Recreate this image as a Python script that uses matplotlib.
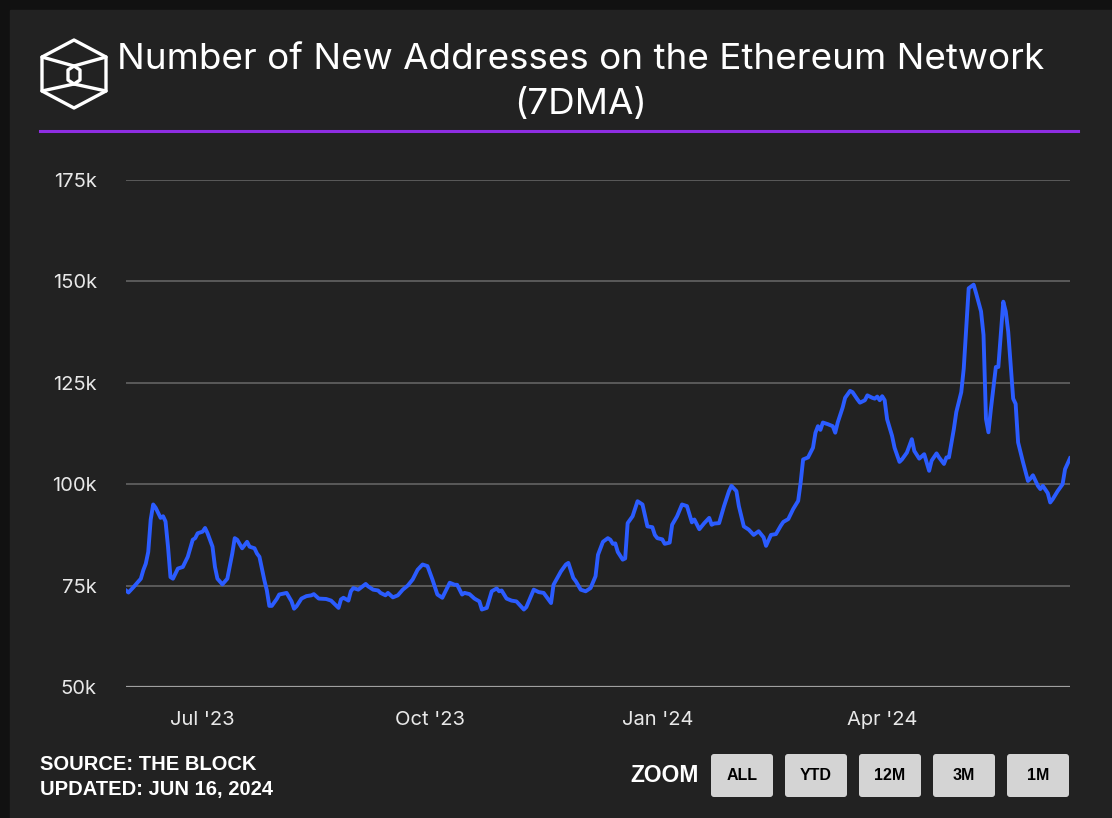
import matplotlib.pyplot as plt
from matplotlib.patches import Rectangle, FancyBboxPatch, Polygon
import pandas as pd

# --- data (7-day moving average, thousands of new addresses) ---
dates = [
    "2023-05-31", "2023-06-01", "2023-06-03", "2023-06-06", "2023-06-07", "2023-06-08",
    "2023-06-09", "2023-06-10", "2023-06-11", "2023-06-12", "2023-06-14", "2023-06-15",
    "2023-06-16", "2023-06-17", "2023-06-18", "2023-06-19", "2023-06-21", "2023-06-22",
    "2023-06-23", "2023-06-25", "2023-06-27", "2023-06-28", "2023-06-29", "2023-07-01",
    "2023-07-02", "2023-07-03", "2023-07-05", "2023-07-06", "2023-07-07", "2023-07-09",
    "2023-07-11", "2023-07-13", "2023-07-14", "2023-07-15", "2023-07-17", "2023-07-19",
    "2023-07-20", "2023-07-22", "2023-07-23", "2023-07-24", "2023-07-26", "2023-07-27",
    "2023-07-28", "2023-07-29", "2023-07-31", "2023-08-01", "2023-08-04", "2023-08-06",
    "2023-08-07", "2023-08-08", "2023-08-10", "2023-08-12", "2023-08-14", "2023-08-15",
    "2023-08-17", "2023-08-20", "2023-08-22", "2023-08-23", "2023-08-25", "2023-08-26",
    "2023-08-27", "2023-08-29", "2023-08-30", "2023-08-31", "2023-09-02", "2023-09-05",
    "2023-09-06", "2023-09-08", "2023-09-10", "2023-09-11", "2023-09-13", "2023-09-14",
    "2023-09-16", "2023-09-18", "2023-09-20", "2023-09-22", "2023-09-24", "2023-09-26",
    "2023-09-28", "2023-09-30", "2023-10-02", "2023-10-04", "2023-10-06", "2023-10-09",
    "2023-10-11", "2023-10-12", "2023-10-14", "2023-10-15", "2023-10-17", "2023-10-19",
    "2023-10-21", "2023-10-22", "2023-10-24", "2023-10-26", "2023-10-28", "2023-10-29",
    "2023-10-30", "2023-11-01", "2023-11-03", "2023-11-05", "2023-11-08", "2023-11-09",
    "2023-11-12", "2023-11-14", "2023-11-16", "2023-11-19", "2023-11-20", "2023-11-23",
    "2023-11-25", "2023-11-26", "2023-11-28", "2023-11-29", "2023-12-01", "2023-12-03",
    "2023-12-05", "2023-12-07", "2023-12-08", "2023-12-10", "2023-12-12", "2023-12-13",
    "2023-12-14", "2023-12-15", "2023-12-16", "2023-12-18", "2023-12-19", "2023-12-20",
    "2023-12-22", "2023-12-24", "2023-12-26", "2023-12-28", "2023-12-30", "2023-12-31",
    "2024-01-01", "2024-01-03", "2024-01-04", "2024-01-06", "2024-01-07", "2024-01-09",
    "2024-01-11", "2024-01-13", "2024-01-15", "2024-01-16", "2024-01-18", "2024-01-20",
    "2024-01-22", "2024-01-23", "2024-01-24", "2024-01-26", "2024-01-28", "2024-01-30",
    "2024-01-31", "2024-02-02", "2024-02-03", "2024-02-05", "2024-02-07", "2024-02-09",
    "2024-02-11", "2024-02-13", "2024-02-14", "2024-02-16", "2024-02-18", "2024-02-20",
    "2024-02-21", "2024-02-23", "2024-02-25", "2024-02-27", "2024-02-28", "2024-02-29",
    "2024-03-02", "2024-03-04", "2024-03-05", "2024-03-06", "2024-03-07", "2024-03-08",
    "2024-03-10", "2024-03-12", "2024-03-13", "2024-03-14", "2024-03-16", "2024-03-17",
    "2024-03-19", "2024-03-20", "2024-03-22", "2024-03-23", "2024-03-25", "2024-03-26",
    "2024-03-28", "2024-03-29", "2024-03-30", "2024-03-31", "2024-04-01", "2024-04-02",
    "2024-04-03", "2024-04-05", "2024-04-06", "2024-04-08", "2024-04-09", "2024-04-11",
    "2024-04-13", "2024-04-14", "2024-04-16", "2024-04-18", "2024-04-20", "2024-04-21",
    "2024-04-23", "2024-04-24", "2024-04-26", "2024-04-27", "2024-04-28", "2024-04-30",
    "2024-05-01", "2024-05-03", "2024-05-04", "2024-05-05", "2024-05-06", "2024-05-08",
    "2024-05-09", "2024-05-11", "2024-05-12", "2024-05-13", "2024-05-14", "2024-05-15",
    "2024-05-17", "2024-05-18", "2024-05-20", "2024-05-21", "2024-05-22", "2024-05-24",
    "2024-05-25", "2024-05-26", "2024-05-28", "2024-05-30", "2024-05-31", "2024-06-01",
    "2024-06-03", "2024-06-04", "2024-06-05", "2024-06-07", "2024-06-08", "2024-06-09",
    "2024-06-11", "2024-06-13", "2024-06-14", "2024-06-16",
]
new_addresses_k = [
    73.8, 73.3, 74.6, 76.7, 78.8, 80.4,
    83.3, 91.3, 95.0, 94.2, 91.7, 92.1,
    90.8, 84.6, 77.1, 76.7, 79.2, 79.4,
    79.6, 82.1, 86.3, 86.7, 87.9, 88.3,
    89.2, 87.9, 84.6, 79.6, 76.7, 75.3,
    76.7, 82.9, 86.7, 86.3, 84.2, 85.8,
    84.6, 84.2, 82.9, 82.1, 76.3, 73.8,
    70.0, 70.0, 71.7, 72.8, 73.2, 71.1,
    69.3, 69.9, 71.8, 72.4, 72.6, 72.9,
    71.8, 71.7, 71.3, 70.7, 69.5, 71.6,
    72.0, 71.3, 73.6, 74.4, 74.0, 75.4,
    74.8, 74.0, 73.8, 73.2, 72.6, 73.2,
    72.1, 72.6, 74.0, 75.0, 76.5, 78.9,
    80.2, 79.8, 76.5, 72.8, 72.0, 75.7,
    75.2, 75.2, 72.8, 73.2, 72.9, 71.8,
    71.1, 69.1, 69.5, 73.6, 74.3, 73.6,
    73.8, 71.8, 71.3, 71.1, 69.1, 69.7,
    74.0, 73.4, 73.2, 70.7, 75.2, 78.5,
    80.2, 80.6, 76.9, 76.1, 74.0, 73.6,
    74.4, 77.3, 82.6, 85.8, 86.7, 86.3,
    85.3, 85.4, 83.3, 81.4, 81.7, 90.4,
    92.1, 95.8, 95.0, 89.6, 89.4, 87.5,
    86.7, 86.4, 85.3, 85.6, 90.0, 92.1,
    95.0, 94.6, 90.6, 91.3, 88.9, 90.4,
    91.7, 90.0, 90.3, 90.4, 94.6, 98.3,
    99.6, 98.3, 94.6, 89.6, 88.8, 87.5,
    88.4, 86.9, 84.8, 87.5, 87.7, 89.8,
    90.7, 91.4, 93.9, 95.9, 100.4, 106.1,
    106.6, 109.0, 112.7, 114.3, 113.4, 115.2,
    114.8, 114.3, 112.7, 115.2, 118.9, 121.3,
    123.0, 122.7, 120.9, 120.1, 120.7, 121.9,
    121.3, 121.1, 121.6, 120.7, 121.7, 120.7,
    116.0, 111.9, 109.0, 105.5, 106.1, 107.8,
    111.1, 108.2, 106.3, 107.4, 103.3, 105.8,
    107.6, 106.6, 105.0, 106.6, 106.6, 113.6,
    117.8, 122.7, 128.5, 138.4, 148.3, 149.2,
    147.1, 142.6, 136.8, 116.1, 112.8, 118.6,
    128.9, 128.9, 145.0, 142.6, 137.6, 121.1,
    119.8, 110.3, 105.4, 100.8, 101.4, 102.2,
    99.6, 98.8, 99.6, 97.8, 95.5, 96.3,
    98.3, 100.0, 103.7, 106.4,
]

y_ticks = [50, 75, 100, 125, 150, 175]
x_ticks = ["2023-07-01", "2023-10-01", "2024-01-01", "2024-04-01"]
x_tick_labels = ["Jul '23", "Oct '23", "Jan '24", "Apr '24"]
zoom_buttons = ["ALL", "YTD", "12M", "3M", "1M"]

title = "Number of New Addresses on the Ethereum Network\n(7DMA)"
source_text = "SOURCE: THE BLOCK\nUPDATED: JUN 16, 2024"

W, H = 1112, 818
fig = plt.figure(figsize=(W / 100, H / 100), dpi=100, facecolor="#111111")

# background layer in pixel coordinates (panel, logo, header, footer)
bg = fig.add_axes([0, 0, 1, 1])
bg.set_xlim(0, W)
bg.set_ylim(H, 0)
bg.axis("off")
bg.add_patch(Rectangle((10, 10), W - 10, H - 10, color="#222222", zorder=0))

# logo: hexagonal cube outline
cx, cy = 74, 74
hexagon = [(cx, 40), (cx + 32, 57), (cx + 32, 91), (cx, 108), (cx - 32, 91), (cx - 32, 57)]
bg.add_patch(Polygon(hexagon, closed=True, fill=False, ec="white", lw=2.4, joinstyle="round"))
inner = [(cx, 66), (cx + 6, 70), (cx + 6, 80), (cx, 84), (cx - 6, 80), (cx - 6, 70)]
bg.add_patch(Polygon(inner, closed=True, fill=False, ec="white", lw=2.4, joinstyle="round"))
for px, py, qx, qy in [(cx - 32, 57, cx, 66), (cx + 32, 57, cx, 66),
                       (cx - 32, 91, cx, 84), (cx + 32, 91, cx, 84)]:
    bg.plot([px, qx], [py, qy], color="white", lw=2.4, solid_capstyle="round")

bg.text(581, 82, title, color="white", fontsize=26.5, family="Inter",
        ha="center", va="center", linespacing=1.45)
bg.plot([40, 1078], [131, 131], color="#8e2de2", lw=2.2)

bg.text(40, 777, source_text, color="white", fontsize=14.5, family="Liberation Sans",
        fontweight="bold", ha="left", va="center", linespacing=1.45)
bg.text(630, 775, "ZOOM", color="white", fontsize=16.5, family="Liberation Sans",
        fontweight="bold", ha="left", va="center")
for i, lab in enumerate(zoom_buttons):
    x0 = 711 + i * 74
    bg.add_patch(FancyBboxPatch((x0, 754), 62, 43, boxstyle="round,pad=0,rounding_size=3",
                                fc="#d4d4d4", ec="none"))
    bg.text(x0 + 31, 776, lab, color="black", fontsize=11.5, family="Liberation Sans",
            fontweight="bold", ha="center", va="center")

# chart
x = pd.to_datetime(dates)
ax = fig.add_axes([126 / W, 1 - 687 / H, (1070 - 126) / W, (687 - 180) / H])
ax.set_facecolor("none")
ax.plot(x, new_addresses_k, color="#2b5cff", lw=2.8, solid_joinstyle="round", zorder=3)

ax.set_ylim(50, 175)
ax.set_xlim(pd.Timestamp("2023-05-31"), pd.Timestamp("2024-06-16"))
ax.set_yticks(y_ticks)
ax.set_yticklabels([f"{v}k" for v in y_ticks])
ax.set_xticks(pd.to_datetime(x_ticks))
ax.set_xticklabels(x_tick_labels)
ax.grid(axis="y", color="#5a5a5a", lw=1.4)
ax.set_axisbelow(True)
for s in ax.spines.values():
    s.set_visible(False)
ax.axhline(50, color="#a0a0a0", lw=1.6, zorder=2)
ax.tick_params(length=0, colors="#e8e8e8", labelsize=14.5)
ax.tick_params(axis="y", pad=21)
ax.tick_params(axis="x", pad=17)
for lab in ax.get_xticklabels() + ax.get_yticklabels():
    lab.set_family("Inter")

fig.savefig("out.png", dpi=100, facecolor=fig.get_facecolor())
